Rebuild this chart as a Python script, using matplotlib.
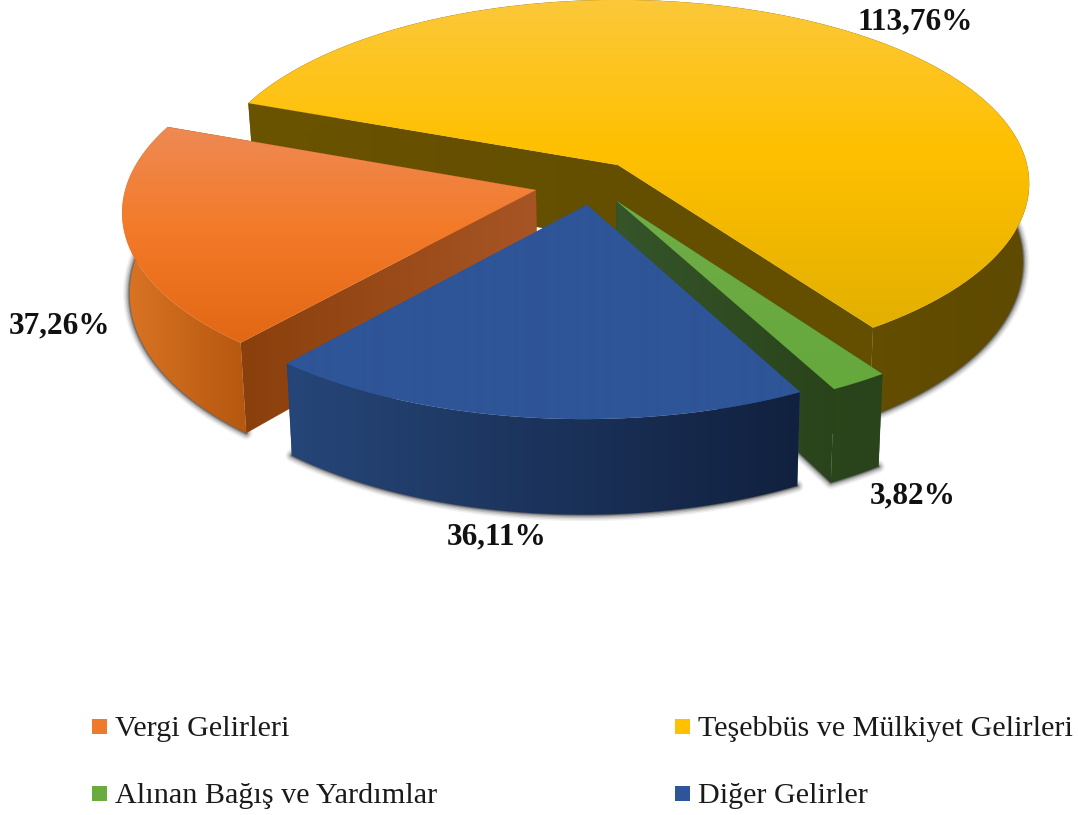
import numpy as np
import matplotlib
matplotlib.use('Agg')
import matplotlib.pyplot as plt
from matplotlib.patches import Polygon, Rectangle

# data
labels = ['Vergi Gelirleri', 'Teşebbüs ve Mülkiyet Gelirleri', 'Alınan Bağış ve Yardımlar', 'Diğer Gelirler']
values = [37.26, 113.76, 3.82, 36.11]
value_texts = ['37,26%', '113,76%', '3,82%', '36,11%']

# how far each slice is pulled out of the pie (disk units), and its size
offsets = [(-0.2, -0.137), (0, 0), (-0.004, -0.195), (-0.075, -0.217)]
radii = [1.0, 1.01, 1.03, 1.02]
start_angle = 229.6

# perspective of the disk on the page
cx, cy = 618, 165
rx, ry, tilt = 405, 180, 0.1


def project(u, v, bottom=False):
    p = 1 + tilt * v
    x = u / p
    y = v / p
    if bottom:
        return cx + rx * x * 0.985, cy - ry * y + 77 - 15 * v
    return cx + rx * x, cy - ry * y


def arc(a0, a1, off, r, n=120):
    t = np.radians(np.linspace(a0, a1, n))
    return r * np.cos(t) + off[0], r * np.sin(t) + off[1]


def pts(u, v, bottom=False):
    x, y = project(np.asarray(u, float), np.asarray(v, float), bottom)
    return np.column_stack([x, y])


def grad_fill(ax, poly, pos, cols, horizontal=False, z=1):
    # gradient picture clipped to the polygon
    rgb = np.array([matplotlib.colors.to_rgb(c) for c in cols])
    n = 1078 if horizontal else 815
    s = np.arange(n) + 0.5
    line = np.column_stack([np.interp(s, pos, rgb[:, i]) for i in range(3)])
    img = line[None, :, :] if horizontal else line[:, None, :]
    patch = Polygon(poly, closed=True, facecolor='none', edgecolor='none', zorder=z)
    ax.add_patch(patch)
    im = ax.imshow(img, extent=[0, 1078, 815, 0], aspect='auto', zorder=z, interpolation='bilinear')
    im.set_clip_path(patch)
    # thin edge hides the jagged clip
    ax.add_patch(Polygon(poly, closed=True, fill=False, edgecolor=cols[len(cols) // 2], lw=0.3, alpha=0.3, zorder=z))


def shadow(ax, poly, z):
    for lw, a in [(13, 0.06), (10, 0.1), (7, 0.16), (4, 0.25), (2, 0.35)]:
        ax.plot(poly[:, 0], poly[:, 1], color='#202020', lw=lw * 0.72, alpha=a, zorder=z,
                solid_capstyle='round', solid_joinstyle='round')


fig = plt.figure(figsize=(10.78, 8.15), dpi=100)
ax = fig.add_axes([0, 0, 1, 1])
ax.axis('off')

# slice colours
top_cols = [
    ([126, 230, 345], ['#ee8a55', '#f37a28', '#e26715'], False),
    ([0, 150, 325], ['#fcc83a', '#ffc000', '#e3b000'], False),
    ([203, 387], ['#70ad47', '#65a83c'], False),
    ([205, 430], ['#2e5597', '#2e5597'], False),
]
wall_cols = [
    ([122, 248], ['#da7524', '#b5570f']),
    ([600, 1027], ['#6a5300', '#5e4a00']),
    ([800, 880], ['#2b471b', '#29431a']),
    ([286, 802], ['#264679', '#11203e']),
]
side_cols = [
    ([243, 540], ['#8a400c', '#a85525']),
    ([248, 620], ['#6a5300', '#644f00']),
    ([613, 840], ['#36552a', '#29431a']),
    ([290, 580], ['#2e5597', '#2e5597']),
]

# sweep of every slice, clockwise from the start angle
angles = [v / sum(values) * 360 for v in values]
spans = []
a = start_angle
for w in angles:
    spans.append((a, a - w))
    a -= w

# back to front
order = [1, 0, 2, 3]
z = 2
for i in order:
    a0, a1 = spans[i]
    off = offsets[i]
    u, v = arc(a0, a1, off, radii[i])
    ou, ov = off

    # soft shadow along the bottom edge
    shadow(ax, np.vstack([pts(u, v, True), pts([ou], [ov], True)]), z)
    z += 1

    # cut faces
    pos, cols = side_cols[i]
    for k in (0, -1):
        quad = np.vstack([pts([ou, u[k]], [ov, v[k]]), pts([u[k], ou], [v[k], ov], True)])
        grad_fill(ax, quad, pos, cols, True, z)
        z += 1

    # outer wall
    top = pts(u, v)
    bot = pts(u, v, True)
    pos, cols = wall_cols[i]
    grad_fill(ax, np.vstack([top, bot[::-1]]), pos, cols, True, z)
    z += 1

    # top face
    poly = np.vstack([pts([ou], [ov]), top])
    pos, cols, h = top_cols[i]
    grad_fill(ax, poly, pos, cols, h, z)
    z += 1

ax.set_xlim(0, 1078)
ax.set_ylim(815, 0)

# value labels
label_xy = [(59, 326), (915, 22), (913, 496), (497, 537)]
for t, (x, y) in zip(value_texts, label_xy):
    ax.text(x, y, t, family='Liberation Serif', weight='bold', fontsize=22.5, color='#111111',
            ha='center', va='center', zorder=z)

# legend
leg_xy = [(92, 727), (675, 727), (92, 794), (675, 794)]
leg_cols = ['#ef7a2c', '#ffc000', '#6aab40', '#2e5597']
for name, c, (x, y) in zip(labels, leg_cols, leg_xy):
    ax.add_patch(Rectangle((x, y - 8), 15, 15, facecolor=c, edgecolor='none', zorder=z))
    ax.text(x + 23, y + 2, name, family='Liberation Serif', fontsize=21.7, color='#1a1a1a',
            ha='left', va='center', zorder=z)

fig.savefig('out.png', dpi=100, facecolor='white')
